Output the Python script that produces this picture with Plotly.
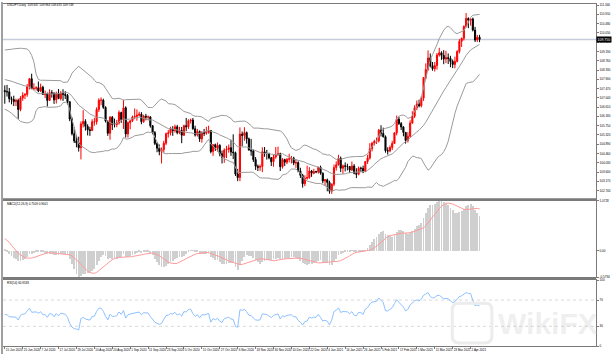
import pandas as pd
import numpy as np
import plotly.graph_objects as go

# ---------------- data ----------------
warmup_close = [107.22, 107.88, 108.48, 109.23, 108.77, 108.78, 108.47, 108.44, 107.73, 107.22, 107.52,
                107.94, 107.52, 107.65, 107.80, 107.75, 107.67, 107.50, 107.28, 106.95, 106.60, 107.15,
                106.90, 106.70, 106.55, 106.10, 106.15, 106.65, 107.70, 107.10, 106.98, 107.25, 107.10,
                107.30, 107.70, 107.55, 107.60, 107.63, 107.70, 107.52, 107.75, 107.65, 107.80,
                107.60, 108.70, 108.90, 109.18, 109.60, 108.44, 107.75, 107.08, 106.92, 107.38]

opens = [107.38, 107.33, 107.32, 107.00, 106.97, 106.87, 106.92, 106.50, 107.03, 107.16, 107.20, 107.56,
         107.93, 107.46, 107.48, 107.51, 107.36, 107.53, 107.20, 107.23, 106.92, 107.28, 107.25, 106.95,
         107.25, 107.01, 107.27, 107.20, 107.16, 106.86, 106.06, 105.38, 105.04, 104.95, 104.73,
         105.83, 105.95, 105.72, 105.56, 105.53, 105.93, 105.93, 106.50, 106.93, 106.93, 106.60, 105.96,
         105.40, 106.14, 105.80, 105.80, 105.88, 106.36, 106.04, 106.58, 105.37,
         105.89, 105.98, 106.15, 106.18, 106.24, 106.28, 105.94, 106.19, 106.15, 106.16, 105.75, 105.43,
         104.93, 104.71, 104.56, 104.64, 104.94, 105.38, 105.42, 105.59, 105.52, 105.70,
         105.43, 105.53, 105.31, 105.75, 105.70, 105.98, 106.01, 105.61, 105.32, 105.48, 105.14, 105.43,
         105.40, 105.44, 105.53, 104.55, 104.87, 104.71, 104.84, 104.45, 104.29, 104.62,
         104.65, 104.73, 104.53, 104.50, 103.51, 103.35, 105.36, 105.30, 105.43, 105.14, 104.62, 104.58,
         104.18, 103.87, 103.82, 103.86, 104.54, 104.46, 104.46, 104.26, 104.08,
         104.30, 104.39, 104.45, 103.85, 104.18, 104.06, 104.19, 104.22, 104.25, 104.02, 104.04, 103.65,
         103.45, 103.06, 103.31, 103.35, 103.65, 103.55, 103.62, 103.61, 103.82, 103.55, 103.19,
         103.24, 103.12, 102.71, 103.04, 103.81, 103.94, 104.24, 103.78, 103.89, 103.87, 103.86, 103.70,
         103.88, 103.55, 103.50, 103.78, 103.77, 103.62, 104.09, 104.25,
         104.68, 104.94, 105.02, 105.05, 105.54, 105.39, 105.24, 104.59, 104.58, 104.74, 104.93, 105.42,
         106.05, 105.85, 105.69, 105.44, 105.07, 105.26, 105.87, 106.19,
         106.58, 106.76, 106.67, 107.03, 107.98, 108.35, 108.89, 108.53, 108.39, 108.54, 109.03, 109.13,
         109.01, 108.84, 108.90, 108.87, 108.73, 108.59, 108.73, 109.19, 109.66, 109.80, 110.35,
         110.72, 110.64, 110.70, 110.18, 109.72, 109.85]

highs = [107.62, 107.64, 107.50, 107.10, 107.14, 107.00, 107.00, 107.12, 107.30, 107.26, 107.68, 107.94,
         108.16, 107.72, 107.58, 107.80, 107.70, 107.60, 107.38, 107.29, 107.44, 107.40, 107.30, 107.33,
         107.45, 107.35, 107.44, 107.35, 107.22, 106.88, 106.14, 105.68, 105.30, 105.24, 105.95,
         106.47, 106.05, 105.82, 105.70, 106.05, 106.12, 106.60, 107.02, 107.06, 107.00, 106.65, 106.00,
         106.20, 106.20, 106.08, 106.02, 106.46, 106.40, 106.95, 106.65, 105.95,
         106.00, 106.22, 106.55, 106.50, 106.40, 106.38, 106.26, 106.30, 106.22, 106.18, 105.78, 105.50,
         104.98, 104.88, 104.74, 105.05, 105.43, 105.55, 105.70, 105.73, 105.80, 105.79,
         105.70, 105.69, 105.80, 106.11, 106.05, 106.08, 106.11, 105.75, 105.60, 105.53, 105.50, 105.60,
         105.70, 105.75, 105.54, 104.90, 104.92, 104.97, 104.89, 104.60, 104.70, 104.82,
         104.88, 105.10, 105.35, 104.55, 103.75, 105.67, 105.48, 105.68, 105.48, 105.20, 105.14, 104.64,
         104.30, 103.95, 103.95, 104.75, 104.76, 104.63, 104.50, 104.30, 104.40,
         104.76, 104.78, 104.50, 104.25, 104.22, 104.26, 104.45, 104.35, 104.31, 104.20, 104.10, 103.80,
         103.52, 103.45, 103.90, 103.83, 103.70, 103.75, 103.66, 103.85, 103.90, 103.58, 103.28,
         103.30, 103.20, 103.08, 103.95, 104.10, 104.40, 104.32, 103.95, 104.05, 103.99, 103.88, 104.09,
         103.97, 103.78, 103.86, 103.85, 103.90, 104.10, 104.40, 104.94,
         105.00, 105.10, 105.20, 105.60, 105.77, 105.66, 105.30, 104.75, 104.83, 105.05, 105.45, 106.22,
         106.16, 105.92, 105.73, 105.46, 105.45, 106.00, 106.42, 106.70,
         106.92, 106.96, 107.11, 108.00, 108.64, 109.24, 109.10, 108.70, 108.70, 109.12, 109.36, 109.20,
         109.25, 109.22, 109.10, 108.99, 108.82, 108.95, 109.25, 109.76, 109.83, 110.40, 110.97,
         110.77, 110.68, 110.76, 110.33, 109.96, 109.96]

lows = [106.77, 107.10, 106.83, 106.74, 106.66, 106.66, 106.07, 106.42, 106.90, 106.98, 107.09, 107.43,
        107.46, 107.40, 107.38, 107.30, 107.31, 107.19, 107.03, 106.64, 106.90, 107.05, 106.76, 106.78,
        106.98, 106.92, 106.90, 106.99, 106.73, 105.96, 105.30, 104.95, 104.75, 104.55, 104.19,
        105.67, 105.52, 105.30, 105.28, 105.50, 105.75, 105.80, 106.38, 106.70, 106.53, 105.90, 105.28,
        105.10, 105.55, 105.67, 105.68, 105.80, 105.88, 105.60, 105.20, 105.20,
        105.58, 105.92, 106.05, 105.98, 106.18, 105.82, 105.88, 106.00, 106.00, 105.66, 105.35, 104.85,
        104.52, 104.38, 104.00, 104.50, 104.85, 105.20, 105.30, 105.28, 105.43, 105.35,
        105.36, 104.94, 105.28, 105.50, 105.60, 105.85, 105.56, 105.25, 105.25, 105.00, 104.96, 105.27,
        105.33, 105.38, 104.47, 104.35, 104.58, 104.55, 104.33, 104.00, 104.03, 104.25,
        104.50, 104.35, 104.20, 103.42, 103.18, 103.18, 104.80, 105.05, 104.92, 104.60, 104.36, 104.07,
        103.70, 103.65, 103.66, 103.60, 104.31, 104.18, 104.19, 103.88, 103.85,
        104.22, 104.37, 103.65, 103.76, 103.88, 103.97, 104.05, 104.00, 103.92, 103.80, 103.59, 103.33,
        102.88, 102.95, 103.25, 103.29, 103.38, 103.50, 103.55, 103.53, 103.48, 103.08, 102.96,
        102.71, 102.60, 102.59, 102.95, 103.67, 103.90, 103.60, 103.52, 103.63, 103.68, 103.56, 103.65,
        103.50, 103.32, 103.45, 103.60, 103.55, 103.60, 103.98, 104.18,
        104.56, 104.83, 104.90, 104.97, 105.25, 105.20, 104.50, 104.41, 104.52, 104.62, 104.90, 105.30,
        105.78, 105.55, 105.26, 104.92, 104.97, 105.20, 105.85, 106.11,
        106.47, 106.60, 106.60, 106.90, 107.90, 108.30, 108.45, 108.30, 108.26, 108.35, 108.95, 108.80,
        108.60, 108.65, 108.61, 108.46, 108.42, 108.41, 108.68, 109.10, 109.40, 109.70, 110.30,
        110.27, 110.39, 110.12, 109.63, 109.63, 109.62]

closes = [107.33, 107.32, 107.00, 106.97, 106.87, 106.92, 106.50, 107.03, 107.16, 107.20, 107.56, 107.93,
          107.46, 107.48, 107.51, 107.36, 107.53, 107.20, 107.23, 106.92, 107.28, 107.25, 106.95, 107.25,
          107.01, 107.27, 107.20, 107.16, 106.86, 106.06, 105.38, 105.04, 104.95, 104.73, 105.83,
          105.95, 105.72, 105.56, 105.53, 105.93, 105.93, 106.50, 106.93, 106.93, 106.60, 105.96, 105.40,
          106.14, 105.80, 105.80, 105.88, 106.36, 106.04, 106.58, 105.37, 105.89,
          105.98, 106.15, 106.18, 106.24, 106.28, 105.94, 106.19, 106.15, 106.16, 105.75, 105.43, 104.93,
          104.71, 104.56, 104.64, 104.94, 105.38, 105.42, 105.59, 105.52, 105.70, 105.43,
          105.53, 105.31, 105.75, 105.70, 105.98, 106.01, 105.61, 105.32, 105.48, 105.14, 105.43, 105.40,
          105.44, 105.53, 104.55, 104.87, 104.71, 104.84, 104.45, 104.29, 104.62, 104.65,
          104.73, 104.53, 104.50, 103.51, 103.35, 105.36, 105.30, 105.43, 105.14, 104.62, 104.58, 104.18,
          103.87, 103.82, 103.86, 104.54, 104.46, 104.46, 104.26, 104.08, 104.30,
          104.39, 104.45, 103.85, 104.18, 104.06, 104.19, 104.22, 104.25, 104.02, 104.04, 103.65, 103.45,
          103.06, 103.31, 103.35, 103.65, 103.55, 103.62, 103.61, 103.82, 103.55, 103.19, 103.24,
          103.12, 102.71, 103.04, 103.81, 103.94, 104.24, 103.78, 103.89, 103.87, 103.86, 103.70, 103.88,
          103.55, 103.50, 103.78, 103.77, 103.62, 104.09, 104.25, 104.68,
          104.94, 105.02, 105.05, 105.54, 105.39, 105.24, 104.59, 104.58, 104.74, 104.93, 105.42, 106.05,
          105.85, 105.69, 105.44, 105.07, 105.26, 105.87, 106.19, 106.58,
          106.76, 106.67, 107.03, 107.98, 108.35, 108.89, 108.53, 108.39, 108.54, 109.03, 109.13, 109.01,
          108.84, 108.90, 108.87, 108.73, 108.59, 108.73, 109.19, 109.66, 109.80, 110.35, 110.72,
          110.64, 110.70, 110.18, 109.72, 109.85, 109.75]

price_ticks = [111.340, 110.910, 110.480, 110.050, 109.620, 109.190, 108.760, 108.330, 107.900,
               107.470, 107.040, 106.610, 106.180, 105.750, 105.320, 104.890, 104.460, 104.030,
               103.600, 103.170, 102.740]
rsi_ticks = [0, 30, 70, 100]
header_text = "USDJPY,Daily  109.847 109.964 109.635 109.748"

# ---------------- indicators ----------------
n = len(closes)
dates = [d for d in pd.bdate_range("2020-06-15", "2021-04-08") if d != pd.Timestamp("2021-01-01")][:n]
xs = list(range(n))
w = len(warmup_close)
allc = pd.Series(warmup_close + closes, dtype=float)
mid = allc.rolling(20).mean()
sd = allc.rolling(20).std(ddof=0)
upper = (mid + 2 * sd).iloc[w:].values
lower = (mid - 2 * sd).iloc[w:].values
mid = mid.iloc[w:].values
ema12 = allc.ewm(span=12, adjust=False).mean()
ema26 = allc.ewm(span=26, adjust=False).mean()
macd_all = ema12 - ema26
signal_all = macd_all.rolling(9).mean()
macd = macd_all.iloc[w:].values
signal = signal_all.iloc[w:].values
delta = allc.diff()
gain = delta.clip(lower=0)
loss = -delta.clip(upper=0)
ag = gain.ewm(alpha=1 / 14, adjust=False).mean()
al = loss.ewm(alpha=1 / 14, adjust=False).mean()
rsi = (100 - 100 / (1 + ag / al)).iloc[w:].values

# ---------------- figure ----------------
W, H = 613, 354
ml, mr, mt, mb = 2, 13, 2, 8
pw, ph = W - ml - mr, H - mt - mb


def py(ypix):
    return (H - mb - ypix) / ph


def px(xpix):
    return (xpix - ml) / pw


dom_main = [py(198), 1.0]
dom_macd = [py(277), py(200)]
dom_rsi = [0.0, py(280)]

fig = go.Figure()
fig.add_trace(go.Candlestick(
    x=xs, open=opens, high=highs, low=lows, close=closes,
    increasing=dict(line=dict(color="#ff0000", width=1), fillcolor="#ff0000"),
    decreasing=dict(line=dict(color="#000000", width=1), fillcolor="#000000"),
    whiskerwidth=0, xaxis="x", yaxis="y", showlegend=False, hoverinfo="skip"))
for band in (upper, mid, lower):
    fig.add_trace(go.Scatter(x=xs, y=band, mode="lines", line=dict(color="#9a9a9a", width=1),
                             xaxis="x", yaxis="y", showlegend=False, hoverinfo="skip"))

fig.add_trace(go.Bar(x=xs, y=macd, width=0.38, marker=dict(color="#cfcfcf", line=dict(width=0)),
                     xaxis="x2", yaxis="y2", showlegend=False, hoverinfo="skip"))
fig.add_trace(go.Scatter(x=xs, y=signal, mode="lines", line=dict(color="#ff9a9a", width=1),
                         xaxis="x2", yaxis="y2", showlegend=False, hoverinfo="skip"))

fig.add_trace(go.Scatter(x=xs, y=rsi, mode="lines", line=dict(color="#8ec0ff", width=1),
                         xaxis="x3", yaxis="y3", showlegend=False, hoverinfo="skip"))

xr = [-0.8, 264]
frame = dict(showline=True, mirror=True, linecolor="#7a7a7a", linewidth=1, showgrid=False, zeroline=False)
tickf = dict(size=3, color="#000000", family="Liberation Sans")

mmin = float(np.nanmin(np.concatenate([macd, signal])))
mmax = float(np.nanmax(np.concatenate([macd, signal])))

fig.update_layout(
    width=W, height=H, margin=dict(l=ml, r=mr, t=mt, b=mb),
    paper_bgcolor="white", plot_bgcolor="white", showlegend=False, bargap=0,
    xaxis=dict(domain=[0, 1], anchor="y", range=xr, showticklabels=False, ticks="", rangeslider=dict(visible=False), **frame),
    xaxis2=dict(domain=[0, 1], anchor="y2", range=xr, showticklabels=False, ticks="", matches="x", **frame),
    xaxis3=dict(domain=[0, 1], anchor="y3", range=xr, matches="x",
                tickvals=xs[::8], ticktext=[f"{d.day} {d.strftime('%b %Y')}" for d in dates[::8]],
                tickangle=0, ticks="outside", ticklen=2, tickcolor="#7a7a7a", ticklabelposition="outside right",
                tickfont=tickf, **frame),
    yaxis=dict(domain=dom_main, anchor="x", side="right", range=[102.36, 111.39],
               tickvals=price_ticks, ticktext=[f"{v:.3f}" for v in price_ticks],
               ticks="outside", ticklen=2, tickcolor="#7a7a7a", tickfont=tickf, **frame),
    yaxis2=dict(domain=dom_macd, anchor="x2", side="right", range=[mmin, mmax],
                tickvals=[mmin, 0, mmax], ticktext=[f"{mmin:.4f}", "0.00", f"{mmax:.4f}"],
                ticks="outside", ticklen=2, tickcolor="#7a7a7a", tickfont=tickf, **frame),
    yaxis3=dict(domain=dom_rsi, anchor="x3", side="right", range=[0, 100],
                tickvals=rsi_ticks, ticktext=[str(v) for v in rsi_ticks],
                ticks="outside", ticklen=2, tickcolor="#7a7a7a", tickfont=tickf, **frame),
)

shapes = []
# current price line
shapes.append(dict(type="line", xref="paper", yref="y", x0=0, x1=1, y0=closes[-1], y1=closes[-1],
                   line=dict(color="#c5ccdb", width=1.5), layer="below"))
# RSI levels
for lv in (30, 70):
    shapes.append(dict(type="line", xref="paper", yref="y3", x0=0, x1=1, y0=lv, y1=lv,
                       line=dict(color="#d8d8d8", width=1, dash="dot"), layer="below"))
# panel separators
for ypix in (198.5, 278.5):
    shapes.append(dict(type="line", xref="paper", yref="paper", x0=0, x1=1, y0=py(ypix), y1=py(ypix),
                       line=dict(color="#7a7a7a", width=2)))
# left window border
shapes.append(dict(type="rect", xref="paper", yref="paper", x0=px(0), x1=px(2), y0=py(354), y1=py(0),
                   line=dict(width=0), fillcolor="#a0a0a0"))
# watermark logo
shapes.append(dict(type="path", xref="paper", yref="paper",
                   path=f"M {px(462)},{py(303)} L {px(488)},{py(303)} Q {px(495)},{py(303)} {px(495)},{py(310)} "
                        f"L {px(495)},{py(336)} Q {px(495)},{py(343)} {px(488)},{py(343)} L {px(462)},{py(343)} "
                        f"Q {px(455)},{py(343)} {px(455)},{py(336)} L {px(455)},{py(310)} Q {px(455)},{py(303)} {px(462)},{py(303)} Z",
                   line=dict(color="#ececec", width=3), layer="above"))
fig.update_layout(shapes=shapes)

annots = [
    dict(xref="paper", yref="paper", x=px(4), y=py(3), xanchor="left", yanchor="middle", showarrow=False,
         text=header_text, font=dict(size=3, color="#000000", family="Liberation Sans")),
    dict(xref="paper", yref="paper", x=px(4), y=py(203), xanchor="left", yanchor="middle", showarrow=False,
         text=f"MACD(12,26,9) {macd[-1]:.4f} {signal[-1]:.4f}",
         font=dict(size=3, color="#000000", family="Liberation Sans")),
    dict(xref="paper", yref="paper", x=px(4), y=py(283), xanchor="left", yanchor="middle", showarrow=False,
         text=f"RSI(14) {rsi[-1]:.4f}", font=dict(size=3, color="#000000", family="Liberation Sans")),
    dict(xref="paper", yref="y", x=1.0, y=closes[-1], xanchor="left", yanchor="middle", showarrow=False,
         text=f"{closes[-1]:.3f}", bgcolor="#000000", borderpad=0.5,
         font=dict(size=3.5, color="#ffffff", family="Liberation Sans")),
    dict(xref="paper", yref="paper", x=px(499), y=py(323), xanchor="left", yanchor="middle", showarrow=False,
         text="<b>WikiFX</b>", font=dict(size=30, color="rgba(200,200,200,0.28)", family="Liberation Sans")),
]
fig.update_layout(annotations=annots)

fig.write_html("out.html")
